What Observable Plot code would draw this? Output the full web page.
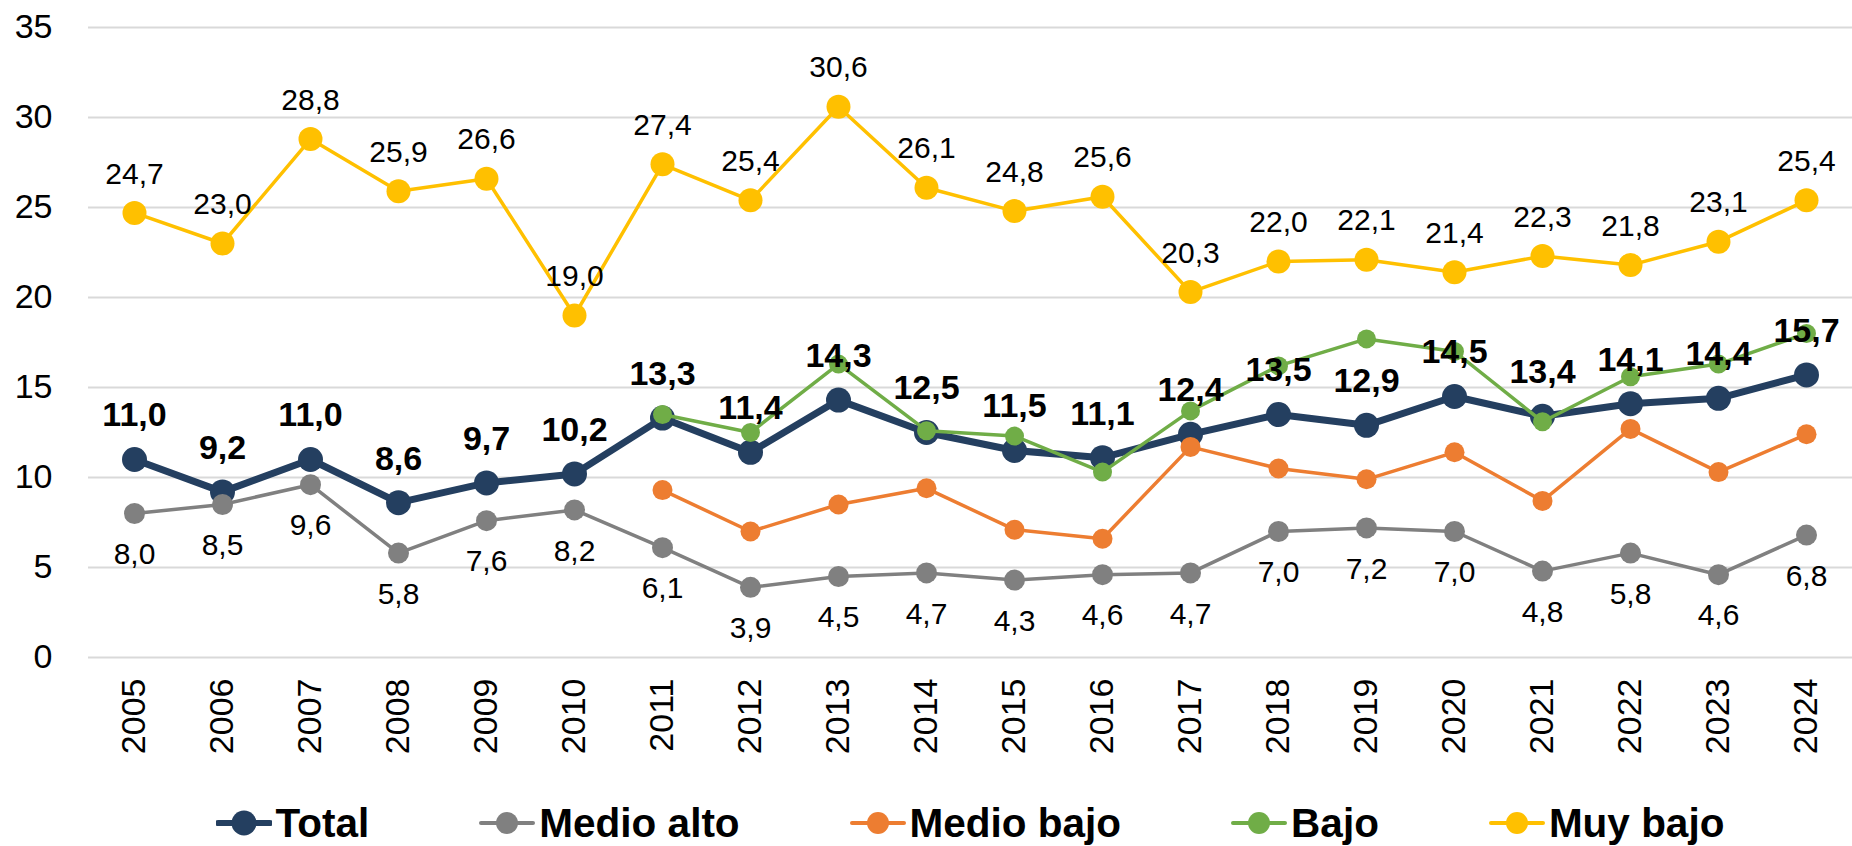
<!DOCTYPE html>
<html>
<head>
<meta charset="utf-8">
<script src="https://cdn.jsdelivr.net/npm/d3@7"></script>
<script src="https://cdn.jsdelivr.net/npm/@observablehq/plot@0.6"></script>
<style>
  body { margin: 0; background: #fff; font-family: "Liberation Sans", Arial, sans-serif; }
  #chart { width: 1852px; }
  #legend { display: flex; justify-content: center; align-items: center; gap: 110px; padding-left: 88px; padding-top: 20px; box-sizing: border-box; height: 66px; width: 1852px; }
  .item { display: flex; align-items: center; font-weight: bold; font-size: 40.5px; color: #000; line-height: 1; }
  .item svg { margin-right: 4px; }
</style>
</head>
<body>
<div id="chart"></div>
<div id="legend"></div>
<script>
const years = [2005, 2006, 2007, 2008, 2009, 2010, 2011, 2012, 2013, 2014, 2015, 2016, 2017, 2018, 2019, 2020, 2021, 2022, 2023, 2024];
const total     = [11.0, 9.2, 11.0, 8.6, 9.7, 10.2, 13.3, 11.4, 14.3, 12.5, 11.5, 11.1, 12.4, 13.5, 12.9, 14.5, 13.4, 14.1, 14.4, 15.7];
const medioAlto = [8.0, 8.5, 9.6, 5.8, 7.6, 8.2, 6.1, 3.9, 4.5, 4.7, 4.3, 4.6, 4.7, 7.0, 7.2, 7.0, 4.8, 5.8, 4.6, 6.8];
const medioBajo = [null, null, null, null, null, null, 9.3, 7.0, 8.5, 9.4, 7.1, 6.6, 11.7, 10.5, 9.9, 11.4, 8.7, 12.7, 10.3, 12.4];
const bajo      = [null, null, null, null, null, null, 13.5, 12.5, 16.3, 12.6, 12.3, 10.3, 13.7, 16.2, 17.7, 17.0, 13.1, 15.6, 16.3, 18.0];
const muyBajo   = [24.7, 23.0, 28.8, 25.9, 26.6, 19.0, 27.4, 25.4, 30.6, 26.1, 24.8, 25.6, 20.3, 22.0, 22.1, 21.4, 22.3, 21.8, 23.1, 25.4];
const yTicks = [0, 5, 10, 15, 20, 25, 30, 35];

const seriesNames  = ["Total", "Medio alto", "Medio bajo", "Bajo", "Muy bajo"];
const seriesValues = [total, medioAlto, medioBajo, bajo, muyBajo];
const seriesColors = ["#243F60", "#808080", "#ED7D31", "#70AD47", "#FFC000"];
const lineWidths   = [7, 3.5, 3.5, 3.5, 3.5];
const dotRadii     = [12.5, 10.5, 10, 9.5, 12];

const fmt = v => v.toFixed(1).replace(".", ",");
const rowsFor = i => years.map((year, j) => ({year, value: seriesValues[i][j], series: seriesNames[i]}))
  .filter(d => d.value != null);

const marks = [
  Plot.gridY(yTicks, {stroke: "#D9D9D9", strokeOpacity: 1, strokeWidth: 2}),
  Plot.axisY({ticks: yTicks, tickSize: 0, tickPadding: 36, fontSize: 34, label: null}),
  Plot.axisX({tickRotate: -90, tickSize: 0, tickPadding: 21, fontSize: 34, label: null, tickFormat: d => String(d)})
];
seriesNames.forEach((name, i) => {
  const rows = rowsFor(i);
  marks.push(Plot.line(rows, {x: "year", y: "value", stroke: seriesColors[i], strokeWidth: lineWidths[i], strokeLinejoin: "round"}));
  marks.push(Plot.dot(rows, {x: "year", y: "value", r: dotRadii[i], fill: seriesColors[i], stroke: "none"}));
});
marks.push(Plot.text(rowsFor(1), {x: "year", y: "value", text: d => fmt(d.value), dy: 41, fontSize: 30, fill: "#000"}));
marks.push(Plot.text(rowsFor(4), {x: "year", y: "value", text: d => fmt(d.value), dy: -39, fontSize: 30, fill: "#000"}));
marks.push(Plot.text(rowsFor(0), {x: "year", y: "value", text: d => fmt(d.value), dy: -44, fontSize: 34, fontWeight: "bold", fill: "#000"}));

const chart = Plot.plot({
  width: 1852,
  height: 780,
  marginLeft: 88,
  marginRight: 0,
  marginTop: 27,
  marginBottom: 123,
  style: {fontFamily: "'Liberation Sans', Arial, sans-serif", background: "#fff", color: "#000"},
  x: {type: "point", domain: years, padding: 0.5},
  y: {domain: [0, 35]},
  marks
});
document.getElementById("chart").appendChild(chart);

const legend = document.getElementById("legend");
seriesNames.forEach((name, i) => {
  const item = document.createElement("div");
  item.className = "item";
  const big = i === 0;
  item.innerHTML = `<svg width="56" height="30" viewBox="0 0 56 30">
    <line x1="2" y1="15" x2="54" y2="15" stroke="${seriesColors[i]}" stroke-width="${big ? 6 : 4}" stroke-linecap="round"/>
    <circle cx="28" cy="15" r="${big ? 12.5 : 11}" fill="${seriesColors[i]}"/>
  </svg><span>${name}</span>`;
  legend.appendChild(item);
});
</script>
</body>
</html>
